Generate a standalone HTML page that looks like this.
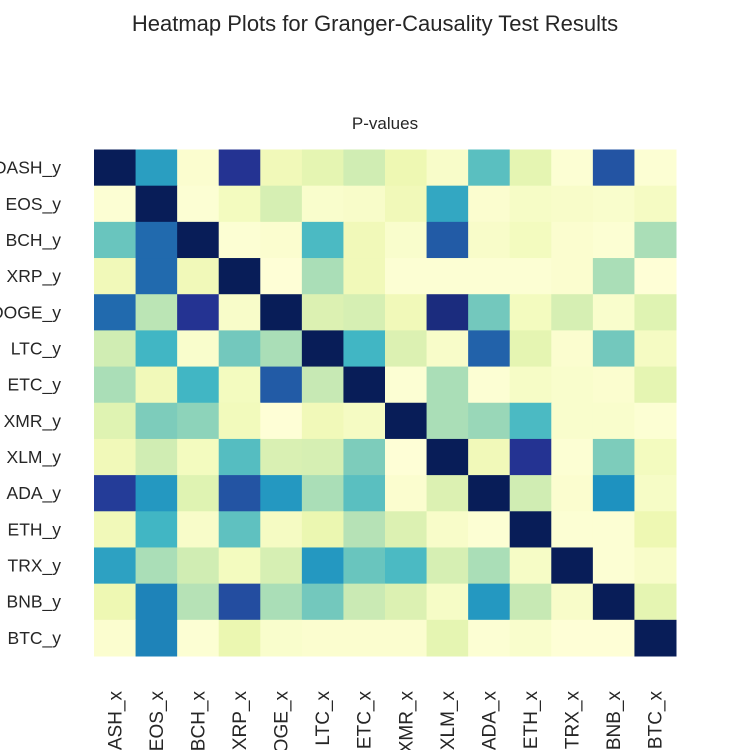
<!DOCTYPE html>
<html><head><meta charset="utf-8"><style>
body{margin:0;background:#fff;}
svg{display:block;font-family:"Liberation Sans",sans-serif;}
</style></head><body>
<svg id="chart" width="750" height="750" viewBox="0 0 750 750">
<text x="375" y="31" text-anchor="middle" font-size="22" fill="#262626">Heatmap Plots for Granger-Causality Test Results</text>
<text x="385" y="129" text-anchor="middle" font-size="17" fill="#262626">P-values</text>
<g id="cells"></g>
<g id="ylabels"></g>
<g id="xlabels"></g>
</svg>
<script>
const rowLabels = ["DASH_y","EOS_y","BCH_y","XRP_y","DOGE_y","LTC_y","ETC_y","XMR_y","XLM_y","ADA_y","ETH_y","TRX_y","BNB_y","BTC_y"];
const colLabels = ["DASH_x","EOS_x","BCH_x","XRP_x","DOGE_x","LTC_x","ETC_x","XMR_x","XLM_x","ADA_x","ETH_x","TRX_x","BNB_x","BTC_x"];
// color intensity (0 = light yellow, 1 = dark navy)
const values = [
[1,0.58,0.03,0.88,0.1,0.15,0.22,0.12,0.05,0.45,0.15,0.02,0.78,0.02],
[0.02,1,0.02,0.08,0.2,0.04,0.05,0.1,0.55,0.03,0.06,0.05,0.04,0.07],
[0.42,0.72,1,0.02,0.03,0.48,0.1,0.04,0.76,0.05,0.08,0.03,0.02,0.3],
[0.1,0.72,0.1,1,0.01,0.3,0.1,0.02,0.02,0.02,0.02,0.03,0.3,0.01],
[0.72,0.27,0.88,0.05,1,0.18,0.2,0.1,0.92,0.4,0.08,0.2,0.04,0.17],
[0.22,0.5,0.04,0.4,0.3,1,0.5,0.18,0.05,0.74,0.15,0.03,0.4,0.07],
[0.3,0.1,0.5,0.08,0.76,0.25,1,0.02,0.3,0.02,0.06,0.04,0.03,0.15],
[0.17,0.38,0.35,0.09,0.01,0.1,0.07,1,0.3,0.33,0.48,0.04,0.04,0.02],
[0.1,0.22,0.08,0.46,0.19,0.2,0.38,0.01,1,0.1,0.88,0.02,0.38,0.08],
[0.85,0.6,0.17,0.78,0.6,0.3,0.45,0.03,0.18,1,0.22,0.03,0.62,0.06],
[0.1,0.5,0.05,0.44,0.07,0.13,0.28,0.18,0.05,0.02,1,0.02,0.02,0.12],
[0.57,0.3,0.22,0.08,0.2,0.6,0.42,0.48,0.2,0.3,0.06,1,0.02,0.05],
[0.12,0.66,0.28,0.8,0.3,0.4,0.24,0.18,0.06,0.6,0.25,0.05,1,0.15],
[0.03,0.66,0.02,0.13,0.04,0.03,0.03,0.03,0.15,0.02,0.04,0.01,0.01,1]
];
const X0=94, X1=676, Y0=149.5, Y1=656;
const cw=(X1-X0)/colLabels.length, ch=(Y1-Y0)/rowLabels.length;
function xScale(i){return X0+i*cw;}
function yScale(i){return Y0+i*ch;}
const stops=["#ffffd9","#edf8b1","#c7e9b4","#7fcdbb","#41b6c4","#1d91c0","#225ea8","#253494","#081d58"];
function hex(c){return [1,3,5].map(k=>parseInt(c.substr(k,2),16));}
function color(v){
  v=Math.max(0,Math.min(1,v));const p=v*(stops.length-1);const i=Math.min(Math.floor(p),stops.length-2);const t=p-i;
  const a=hex(stops[i]),b=hex(stops[i+1]);
  return "rgb("+a.map((x,k)=>Math.round(x+(b[k]-x)*t)).join(",")+")";
}
const NS="http://www.w3.org/2000/svg";
const cells=document.getElementById("cells");
values.forEach((row,r)=>row.forEach((v,c)=>{
  const el=document.createElementNS(NS,"rect");
  el.setAttribute("x",xScale(c));el.setAttribute("y",yScale(r));
  el.setAttribute("width",cw+0.5);el.setAttribute("height",ch+0.5);
  el.setAttribute("fill",color(v));
  
  
  cells.appendChild(el);
}));
const yl=document.getElementById("ylabels");
rowLabels.forEach((l,r)=>{
  const t=document.createElementNS(NS,"text");
  t.setAttribute("x",61);t.setAttribute("y",yScale(r)+ch/2+6);
  t.setAttribute("text-anchor","end");t.setAttribute("font-size","17.5");t.setAttribute("fill","#262626");
  t.textContent=l;
  
  
  yl.appendChild(t);
});
const xl=document.getElementById("xlabels");
colLabels.forEach((l,c)=>{
  const t=document.createElementNS(NS,"text");
  const x=xScale(c)+cw/2+6.5, y=691;
  t.setAttribute("x",x);t.setAttribute("y",y);
  t.setAttribute("transform","rotate(-90 "+x+" "+y+")");
  t.setAttribute("text-anchor","end");t.setAttribute("font-size","19");t.setAttribute("fill","#262626");
  t.textContent=l;
  
  
  xl.appendChild(t);
});
</script>
</body></html>
